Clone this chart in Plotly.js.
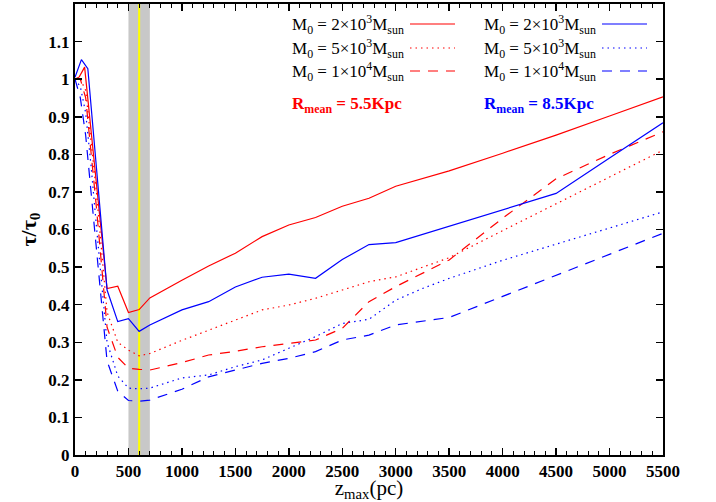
<!DOCTYPE html>
<html>
<head>
<meta charset="utf-8">
<script src="https://cdn.plot.ly/plotly-3.0.1.min.js"></script>
<style>html,body{margin:0;padding:0;background:#fff;}#chart{width:716px;height:502px;}</style>
</head>
<body>
<div id="chart"></div>
<script>
// ---- Data ----
// R_mean = 5.5 Kpc (red)
const xRed2e3 = [0, 40, 90, 300, 400, 500, 600, 700, 1000, 1250, 1500, 1750, 2000, 2250, 2500, 2750, 3000, 3250, 3500, 4000, 4500, 5000, 5500];
const yRed2e3 = [1.0, 1.006, 1.032, 0.443, 0.449, 0.379, 0.387, 0.418, 0.465, 0.503, 0.537, 0.581, 0.612, 0.632, 0.662, 0.683, 0.715, 0.736, 0.756, 0.803, 0.851, 0.902, 0.953];

const xCurve = [0, 50, 100, 150, 200, 250, 300, 400, 500, 600, 700, 1000, 1250, 1500, 1750, 2000, 2250, 2500, 2750, 3000, 3250, 3500, 4000, 4500, 5000, 5500];
const yRed5e3 = [1.0, 1.0, 0.97, 0.84, 0.70, 0.54, 0.38, 0.30, 0.279, 0.264, 0.270, 0.305, 0.332, 0.359, 0.386, 0.399, 0.417, 0.439, 0.461, 0.474, 0.500, 0.525, 0.597, 0.669, 0.740, 0.811];
const yRed1e4 = [1.0, 1.0, 0.95, 0.81, 0.66, 0.50, 0.34, 0.26, 0.231, 0.228, 0.226, 0.246, 0.266, 0.276, 0.288, 0.297, 0.306, 0.337, 0.408, 0.448, 0.483, 0.519, 0.630, 0.735, 0.800, 0.860];

// R_mean = 8.5 Kpc (blue)
const xBlue2e3 = [0, 60, 120, 300, 400, 500, 600, 700, 1000, 1250, 1500, 1750, 2000, 2250, 2500, 2750, 3000, 3500, 4000, 4500, 5000, 5500];
const yBlue2e3 = [1.005, 1.052, 1.028, 0.439, 0.355, 0.363, 0.329, 0.346, 0.386, 0.408, 0.447, 0.473, 0.481, 0.470, 0.520, 0.560, 0.565, 0.609, 0.652, 0.696, 0.790, 0.884];
const yBlue5e3 = [1.0, 0.98, 0.91, 0.77, 0.61, 0.46, 0.30, 0.21, 0.178, 0.176, 0.178, 0.205, 0.213, 0.235, 0.253, 0.284, 0.315, 0.350, 0.361, 0.412, 0.443, 0.470, 0.518, 0.561, 0.604, 0.647];
const yBlue1e4 = [1.0, 0.95, 0.85, 0.70, 0.56, 0.41, 0.25, 0.17, 0.145, 0.143, 0.146, 0.175, 0.208, 0.226, 0.244, 0.257, 0.275, 0.306, 0.319, 0.346, 0.355, 0.366, 0.422, 0.478, 0.534, 0.590];

const legendLabels = ["M<sub>0</sub> = 2×10<sup>3</sup>M<sub>sun</sub>", "M<sub>0</sub> = 5×10<sup>3</sup>M<sub>sun</sub>", "M<sub>0</sub> = 1×10<sup>4</sup>M<sub>sun</sub>"];
const groupLabels = ["R<sub>mean</sub> = 5.5Kpc", "R<sub>mean</sub> = 8.5Kpc"];
const bandRange = [500, 700];
const markerX = 600;

// ---- Styles ----
const RED = "#ff0000", BLUE = "#0000ff";
const DASH = "10px,8px";
const DOT = "1.5px,4px";
const LW = 1.2;
const serif = "Liberation Serif, Times New Roman, serif";

function tr(x, y, color, dash) {
  return {x: x, y: y, type: "scatter", mode: "lines", showlegend: false, hoverinfo: "skip",
          line: {color: color, width: LW, dash: dash}};
}

const data = [
  tr(xRed2e3, yRed2e3, RED, "solid"),
  tr(xCurve, yRed5e3, RED, DOT),
  tr(xCurve, yRed1e4, RED, DASH),
  tr(xBlue2e3, yBlue2e3, BLUE, "solid"),
  tr(xCurve, yBlue5e3, BLUE, DOT),
  tr(xCurve, yBlue1e4, BLUE, DASH)
];

// ---- Legend (gnuplot style: text then line sample) ----
const dashes = ["solid", DOT, DASH];
const rowY = [25, 49, 72];           // pixel rows
const H = 502, T = 4, B = 47, PH = H - T - B;
const L = 75, R = 53, PW = 716 - L - R;
function py(p) { return 1 - (p - T) / PH; }
function px(p) { return (p - L) / PW; }

const annotations = [];
const shapes = [
  {type: "rect", xref: "x", yref: "paper", x0: bandRange[0], x1: bandRange[1], y0: 0, y1: 1,
   fillcolor: "#c8c8c8", line: {width: 0}, layer: "below"},
  {type: "line", xref: "x", yref: "paper", x0: markerX, x1: markerX, y0: 0, y1: 1,
   line: {color: "#ffff00", width: 2}, layer: "below"}
];
const cols = [{tx: 290, lx0: 410, lx1: 455, color: RED}, {tx: 482, lx0: 602, lx1: 647, color: BLUE}];
cols.forEach(function (c, ci) {
  for (let i = 0; i < 3; i++) {
    annotations.push({xref: "paper", yref: "paper", x: px(c.tx), y: py(rowY[i]), xanchor: "left", yanchor: "middle",
      text: legendLabels[i], showarrow: false, font: {family: serif, size: 17, color: "#000"}});
    shapes.push({type: "line", xref: "paper", yref: "paper", x0: px(c.lx0), x1: px(c.lx1), y0: py(rowY[i] - 1), y1: py(rowY[i] - 1),
      line: {color: c.color, width: LW, dash: dashes[i]}});
  }
  annotations.push({xref: "paper", yref: "paper", x: px(c.tx), y: py(105), xanchor: "left", yanchor: "middle",
    text: "<b>" + groupLabels[ci] + "</b>", showarrow: false, font: {family: serif, size: 17, color: c.color}});
});

const layout = {
  width: 716, height: 502,
  margin: {l: L, r: R, t: T, b: B},
  paper_bgcolor: "#fff", plot_bgcolor: "#fff",
  font: {family: serif, color: "#000"},
  xaxis: {
    range: [0, 5500], dtick: 500, tick0: 0, ticks: "inside", ticklen: 7, tickwidth: 1.5, tickcolor: "#000",
    minor: {dtick: 100, ticks: "inside", ticklen: 4, tickwidth: 1, tickcolor: "#000"},
    showline: true, linewidth: 2, linecolor: "#000", mirror: "allticks", showgrid: false, zeroline: false,
    tickfont: {family: serif, size: 17, color: "#000", weight: "bold"},
    title: {text: "z<sub>max</sub>(pc)", font: {family: serif, size: 21, color: "#000"}, standoff: 4}
  },
  yaxis: {
    range: [0, 1.2], dtick: 0.1, tick0: 0, ticks: "inside", ticklen: 7, tickwidth: 1.5, tickcolor: "#000",
    showline: true, linewidth: 2, linecolor: "#000", mirror: "allticks", showgrid: false, zeroline: false,
    tickfont: {family: serif, size: 17, color: "#000", weight: "bold"},
    title: {text: "<b>τ/τ<sub>0</sub></b>", font: {family: serif, size: 22, color: "#000"}, standoff: 6}
  },
  shapes: shapes,
  annotations: annotations
};

Plotly.newPlot("chart", data, layout, {staticPlot: true, displayModeBar: false});
</script>
</body>
</html>
